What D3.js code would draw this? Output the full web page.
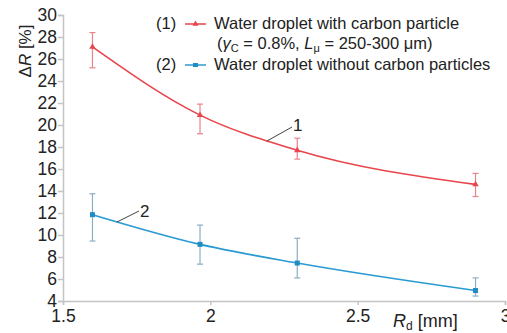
<!DOCTYPE html>
<html><head><meta charset="utf-8">
<script src="https://cdn.jsdelivr.net/npm/d3@7"></script>
<style>body{margin:0;background:#fff}text{font-family:"Liberation Sans",Arial,Helvetica,sans-serif}</style>
</head><body><svg id="c" width="507" height="333"></svg>
<script>
const rd = [1.6, 1.965, 2.295, 2.9];
const withCarbon = [27.1, 20.9, 17.7, 14.6];
const withCarbonHi = [28.4, 21.9, 18.8, 15.6];
const withCarbonLo = [25.2, 19.2, 16.9, 13.5];
const noCarbon = [11.85, 9.15, 7.45, 4.95];
const noCarbonHi = [13.75, 10.9, 9.7, 6.1];
const noCarbonLo = [9.45, 7.35, 6.1, 4.45];
const xTicks = [1.5, 2, 2.5, 3];
const yTicks = [4,6,8,10,12,14,16,18,20,22,24,26,28,30];

const svg = d3.select("#c");
const x = d3.scaleLinear().domain([1.5,3]).range([63,505]);
const y = d3.scaleLinear().domain([4,30]).range([301,15]);
const axisCol = "#c4c4c4";

const ya = svg.append("g").attr("transform","translate(63,0)")
  .call(d3.axisLeft(y).tickValues(yTicks).tickSize(5).tickPadding(1).tickFormat(d3.format("d")));
const xa = svg.append("g").attr("transform","translate(0,301)")
  .call(d3.axisBottom(x).tickValues(xTicks).tickSize(4).tickPadding(5).tickFormat(d=>d));
[ya,xa].forEach(g=>{
  g.selectAll("path,line").attr("stroke",axisCol).attr("stroke-width",1.5);
  g.selectAll("text").attr("font-size",17.5).attr("fill","#222").attr("font-family","Liberation Sans, Arial, sans-serif");
});

function series(vals, hi, lo, col, errCol){
  const pts = rd.map((r,i)=>[x(r), y(vals[i])]);
  svg.append("path").attr("d", d3.line().curve(d3.curveMonotoneX)(pts))
    .attr("fill","none").attr("stroke",col).attr("stroke-width",1.6);
  rd.forEach((r,i)=>{
    const g = svg.append("g").attr("stroke",errCol).attr("stroke-width",1.2);
    g.append("line").attr("x1",x(r)).attr("x2",x(r)).attr("y1",y(hi[i])).attr("y2",y(lo[i]));
    g.append("line").attr("x1",x(r)-3).attr("x2",x(r)+3).attr("y1",y(hi[i])).attr("y2",y(hi[i]));
    g.append("line").attr("x1",x(r)-3).attr("x2",x(r)+3).attr("y1",y(lo[i])).attr("y2",y(lo[i]));
  });
  return pts;
}
series(withCarbon, withCarbonHi, withCarbonLo, "#e8454c", "#e9838a");
svg.selectAll(null).data(rd).enter().append("path")
  .attr("d", d3.symbol(d3.symbolTriangle, 18)())
  .attr("transform",(d,i)=>`translate(${x(d)},${y(withCarbon[i])})`).attr("fill","#e8454c");
series(noCarbon, noCarbonHi, noCarbonLo, "#2a9ad2", "#8aaec4");
svg.selectAll(null).data(rd).enter().append("rect")
  .attr("x",(d)=>x(d)-2.5).attr("y",(d,i)=>y(noCarbon[i])-2.5).attr("width",5).attr("height",5).attr("fill","#1f8cc4");

// annotations
svg.append("line").attr("x1",267).attr("y1",141).attr("x2",292).attr("y2",127).attr("stroke","#444").attr("stroke-width",1);
svg.append("text").attr("x",293).attr("y",131).attr("font-size",17).attr("fill","#222").text("1");
svg.append("line").attr("x1",117).attr("y1",222).attr("x2",139).attr("y2",211).attr("stroke","#444").attr("stroke-width",1);
svg.append("text").attr("x",140).attr("y",217).attr("font-size",17).attr("fill","#222").text("2");

// axis titles
const yt = svg.append("text").attr("transform","translate(31,51) rotate(-90)").attr("text-anchor","middle").attr("font-size",17).attr("fill","#222");
yt.append("tspan").text("Δ");
yt.append("tspan").attr("font-style","italic").text("R");
yt.append("tspan").text(" [%]");
const xt = svg.append("text").attr("x",393).attr("y",327).attr("font-size",18).attr("fill","#222");
xt.append("tspan").attr("font-style","italic").text("R");
xt.append("tspan").attr("font-size",12).attr("dy",3).text("d");
xt.append("tspan").attr("dy",-3).text(" [mm]");

// legend
const lf = 16.5;
svg.append("text").attr("x",156).attr("y",29).attr("font-size",lf).attr("fill","#222").text("(1)");
svg.append("line").attr("x1",185).attr("x2",206).attr("y1",24).attr("y2",24).attr("stroke","#e8454c").attr("stroke-width",1.5);
svg.append("path").attr("d",d3.symbol(d3.symbolTriangle,16)()).attr("transform","translate(195.5,24)").attr("fill","#e8454c");
svg.append("text").attr("x",214).attr("y",29).attr("font-size",lf).attr("fill","#222").text("Water droplet with carbon particle");
const l2 = svg.append("text").attr("x",217).attr("y",49).attr("font-size",lf).attr("fill","#222");
l2.append("tspan").text("(");
l2.append("tspan").attr("font-style","italic").text("γ");
l2.append("tspan").attr("font-size",11).attr("dy",3).text("C");
l2.append("tspan").attr("dy",-3).text(" = 0.8%, ");
l2.append("tspan").attr("font-style","italic").text("L");
l2.append("tspan").attr("font-size",11).attr("dy",3).text("μ");
l2.append("tspan").attr("dy",-3).text(" = 250-300 μm)");
svg.append("text").attr("x",156).attr("y",70).attr("font-size",lf).attr("fill","#222").text("(2)");
svg.append("line").attr("x1",185).attr("x2",206).attr("y1",65).attr("y2",65).attr("stroke","#2a9ad2").attr("stroke-width",1.5);
svg.append("rect").attr("x",193).attr("y",63).attr("width",5).attr("height",4).attr("fill","#1f8cc4");
svg.append("text").attr("x",214).attr("y",70).attr("font-size",lf).attr("fill","#222").text("Water droplet without carbon particles");
</script></body></html>
